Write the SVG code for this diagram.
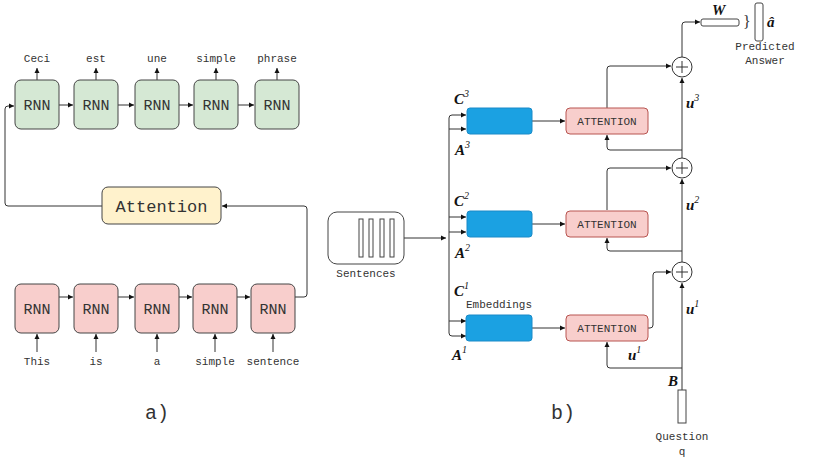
<svg xmlns="http://www.w3.org/2000/svg" width="830" height="459" viewBox="0 0 830 459">
<style>
.m{font-family:"Liberation Mono",monospace;fill:#333}
.s{font-size:11px}
.rnn{font-size:15px;text-anchor:middle}
.g{fill:#d5e8d4;stroke:#444;stroke-width:1}
.r{fill:#f8cecc;stroke:#444;stroke-width:1}
.att{fill:#f8cecc;stroke:#b85450;stroke-width:1}
.bl{fill:#1ba1e2;stroke:#1a8ac8;stroke-width:1}
.ln{fill:none;stroke:#333;stroke-width:1}
.it{font-family:"Liberation Serif",serif;font-style:italic;font-weight:bold;font-size:15px;fill:#111}
.sup{font-size:10px;font-weight:normal}
</style>
<defs><marker id="a" markerWidth="6" markerHeight="6" refX="5" refY="3" orient="auto" markerUnits="userSpaceOnUse"><path d="M0,0.5 L5,3 L0,5.5z" fill="#111"/></marker></defs>
<g id="connectors" class="ln" marker-end="url(#a)">
<path d="M59,105H73"/><path d="M118,105H134"/><path d="M179,105H193"/><path d="M238,105H254"/>
<path d="M37,80V68"/><path d="M96,80V68"/><path d="M157,80V68"/><path d="M216,80V68"/><path d="M277,80V68"/>
<path d="M59,297H73"/><path d="M118,297H134"/><path d="M179,297H192"/><path d="M237,297H250"/>
<path d="M37,352V334"/><path d="M96,352V334"/><path d="M157,352V334"/><path d="M215,352V334"/><path d="M273,352V334"/>
<path d="M102,206H8Q5,206 5,203V109Q5,106 8,106H14"/>
<path d="M295,297H304Q307,297 307,294V209Q307,206 304,206H222"/>
<path d="M404,238H446"/>
<path d="M449,238V118Q449,115 452,115H466"/><path d="M449,129H466"/>
<path d="M449,217H466"/><path d="M449,232H466"/>
<path d="M449,238V333Q449,336 452,336H466"/><path d="M449,321H466"/>
<path d="M532,121H565"/><path d="M532,224H565"/><path d="M532,328H565"/>
<path d="M682,390V283"/>
<path d="M682,368H610Q607,368 607,365V342"/>
<path d="M648,328H650Q653,328 653,325V275Q653,272 656,272H671"/>
<path d="M682,262V179"/>
<path d="M682,251H610Q607,251 607,248V238"/>
<path d="M607,210V171Q607,168 610,168H671"/>
<path d="M682,158V78"/>
<path d="M682,150H610Q607,150 607,147V135"/>
<path d="M607,108V69Q607,66 610,66H671"/>
<path d="M682,57V25Q682,22 685,22H700"/>
</g>
<g id="seq2seq">
<g id="g1"><rect class="g" x="15" y="80" width="44" height="49" rx="6"/><text class="m rnn" x="37" y="110">RNN</text><text class="m s" x="37" y="62" text-anchor="middle">Ceci</text></g>
<g id="g2"><rect class="g" x="74" y="80" width="44" height="49" rx="6"/><text class="m rnn" x="96" y="110">RNN</text><text class="m s" x="96" y="62" text-anchor="middle">est</text></g>
<g id="g3"><rect class="g" x="135" y="80" width="44" height="49" rx="6"/><text class="m rnn" x="157" y="110">RNN</text><text class="m s" x="157" y="62" text-anchor="middle">une</text></g>
<g id="g4"><rect class="g" x="194" y="80" width="44" height="49" rx="6"/><text class="m rnn" x="216" y="110">RNN</text><text class="m s" x="216" y="62" text-anchor="middle">simple</text></g>
<g id="g5"><rect class="g" x="255" y="80" width="44" height="49" rx="6"/><text class="m rnn" x="277" y="110">RNN</text><text class="m s" x="277" y="62" text-anchor="middle">phrase</text></g>
<g id="attn"><rect x="102" y="187" width="119" height="37" rx="6" fill="#fff2cc" stroke="#444"/><text class="m" x="161.5" y="212" font-size="17" text-anchor="middle">Attention</text></g>
<g id="r1"><rect class="r" x="15" y="284" width="44" height="49" rx="6"/><text class="m rnn" x="37" y="314">RNN</text><text class="m s" x="37" y="365" text-anchor="middle">This</text></g>
<g id="r2"><rect class="r" x="74" y="284" width="44" height="49" rx="6"/><text class="m rnn" x="96" y="314">RNN</text><text class="m s" x="96" y="365" text-anchor="middle">is</text></g>
<g id="r3"><rect class="r" x="135" y="284" width="44" height="49" rx="6"/><text class="m rnn" x="157" y="314">RNN</text><text class="m s" x="157" y="365" text-anchor="middle">a</text></g>
<g id="r4"><rect class="r" x="193" y="284" width="44" height="49" rx="6"/><text class="m rnn" x="215" y="314">RNN</text><text class="m s" x="215" y="365" text-anchor="middle">simple</text></g>
<g id="r5"><rect class="r" x="251" y="284" width="44" height="49" rx="6"/><text class="m rnn" x="273" y="314">RNN</text><text class="m s" x="273" y="365" text-anchor="middle">sentence</text></g>
<text class="m" x="157" y="419" font-size="20" text-anchor="middle">a)</text>
</g>
<g id="memnet">
<g id="sentences"><rect x="328" y="212" width="76" height="52" rx="9" fill="#fff" stroke="#444"/>
<rect x="359" y="219" width="4" height="38" fill="#fff" stroke="#444"/><rect x="369" y="219" width="4" height="38" fill="#fff" stroke="#444"/><rect x="380" y="219" width="4" height="38" fill="#fff" stroke="#444"/><rect x="390" y="219" width="4" height="38" fill="#fff" stroke="#444"/>
<text class="m s" x="366" y="277" text-anchor="middle">Sentences</text></g>
<g id="emb3"><rect class="bl" x="467" y="108" width="65" height="26" rx="3"/></g>
<g id="emb2"><rect class="bl" x="467" y="211" width="65" height="26" rx="3"/></g>
<g id="emb1"><rect class="bl" x="466" y="315" width="66" height="26" rx="3"/><text class="m s" x="499" y="308" text-anchor="middle">Embeddings</text></g>
<g id="att3"><rect class="att" x="566" y="108" width="82" height="26" rx="4"/><text class="m s" x="607" y="125" text-anchor="middle">ATTENTION</text></g>
<g id="att2"><rect class="att" x="566" y="211" width="82" height="26" rx="4"/><text class="m s" x="607" y="228" text-anchor="middle">ATTENTION</text></g>
<g id="att1"><rect class="att" x="566" y="315" width="82" height="26" rx="4"/><text class="m s" x="607" y="332" text-anchor="middle">ATTENTION</text></g>
<g id="plus3"><circle cx="682" cy="67" r="10" fill="#fff" stroke="#333"/><path d="M676,67H688M682,61V73" stroke="#333"/></g>
<g id="plus2"><circle cx="682" cy="168" r="10" fill="#fff" stroke="#333"/><path d="M676,168H688M682,162V174" stroke="#333"/></g>
<g id="plus1"><circle cx="682" cy="272" r="10" fill="#fff" stroke="#333"/><path d="M676,272H688M682,266V278" stroke="#333"/></g>
<g id="question"><rect x="678" y="390" width="8" height="33" fill="#fff" stroke="#444"/><text class="m s" x="682" y="440" text-anchor="middle">Question</text><text class="m s" x="682" y="455" text-anchor="middle">q</text></g>
<g id="W"><rect x="701" y="19" width="38" height="7" rx="2" fill="#fff" stroke="#444"/><text class="it" x="712" y="15">W</text></g>
<g id="answer"><text x="743" y="27" font-family="Liberation Serif,serif" font-size="16" fill="#333">}</text><rect x="755" y="3" width="8" height="38" rx="2" fill="#fff" stroke="#444"/><text class="it" x="767" y="27">â</text>
<text class="m s" x="765" y="50" text-anchor="middle">Predicted</text><text class="m s" x="765" y="64" text-anchor="middle">Answer</text></g>
<text class="it" x="454" y="104">C<tspan class="sup" dy="-7">3</tspan></text>
<text class="it" x="455" y="155">A<tspan class="sup" dy="-7">3</tspan></text>
<text class="it" x="454" y="206">C<tspan class="sup" dy="-7">2</tspan></text>
<text class="it" x="455" y="258">A<tspan class="sup" dy="-7">2</tspan></text>
<text class="it" x="454" y="296">C<tspan class="sup" dy="-7">1</tspan></text>
<text class="it" x="452" y="360">A<tspan class="sup" dy="-7">1</tspan></text>
<text class="it" x="686" y="108">u<tspan class="sup" dy="-7">3</tspan></text>
<text class="it" x="686" y="210">u<tspan class="sup" dy="-7">2</tspan></text>
<text class="it" x="686" y="314">u<tspan class="sup" dy="-7">1</tspan></text>
<text class="it" x="628" y="360">u<tspan class="sup" dy="-7">1</tspan></text>
<text class="it" x="668" y="386">B</text>
<text class="m" x="563" y="419" font-size="20" text-anchor="middle">b)</text>
</g>
</svg>
